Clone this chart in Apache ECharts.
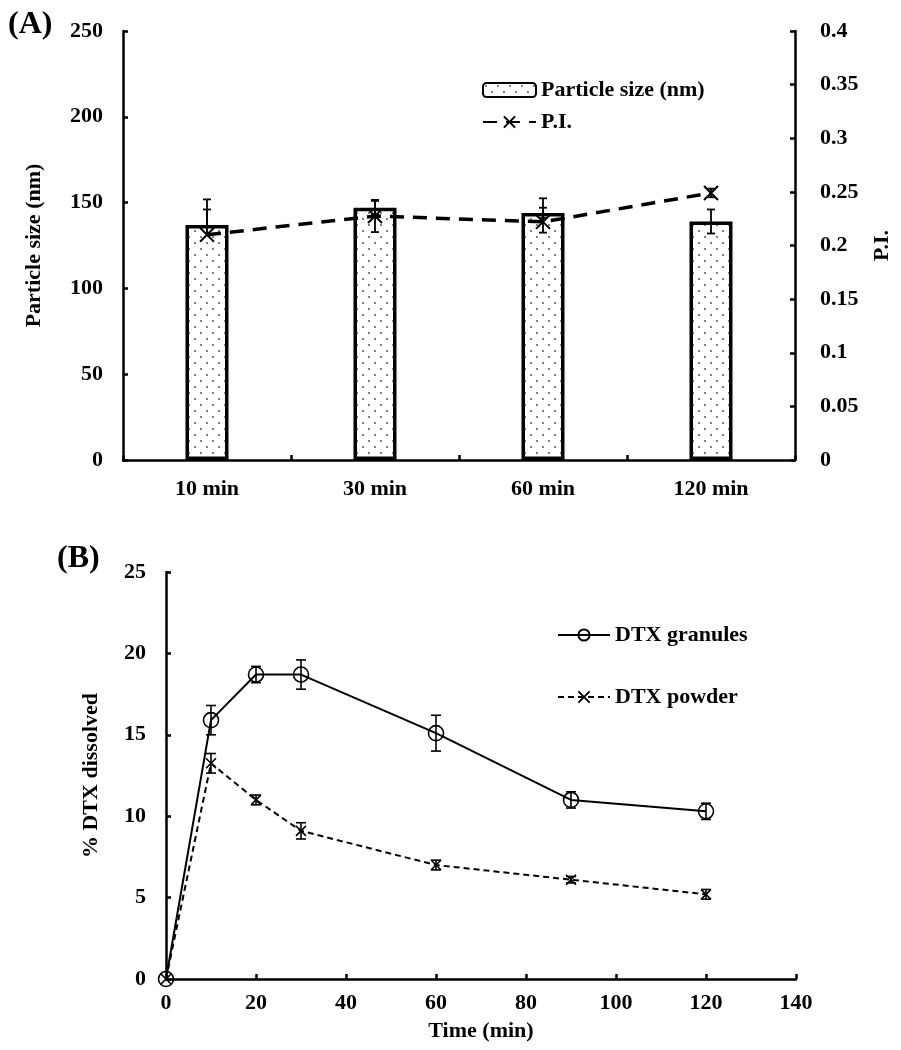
<!DOCTYPE html>
<html>
<head>
<meta charset="utf-8">
<script src="https://cdn.jsdelivr.net/npm/echarts@6/dist/echarts.min.js"></script>
<style>html,body{margin:0;padding:0;background:#fff;}#c{width:901px;height:1050px;}</style>
</head>
<body>
<div id="c"></div>
<script>
// ---- Data: panel A ----
const timeCats = ['10 min', '30 min', '60 min', '120 min'];
const particleSize = [137, 147, 144, 139];
const particleSizePlus = [9, 4, 3, 7];
const particleSizeMinus = [0, 4, 3, 7];
const piValues = [0.21, 0.2275, 0.222, 0.249];
const piPlus = [0.033, 0.015, 0.022, 0.004];
const piMinus = [0, 0.015, 0.01, 0.004];
const leftTicksA = [0, 50, 100, 150, 200, 250];
const rightTicksA = [0, 0.05, 0.1, 0.15, 0.2, 0.25, 0.3, 0.35, 0.4];

// ---- Data: panel B ----
const timeMin = [0, 10, 20, 30, 60, 90, 120];
const granules = [0, 15.9, 18.7, 18.7, 15.1, 11.0, 10.3];
const granulesErr = [0, 0.9, 0.5, 0.9, 1.1, 0.5, 0.5];
const powder = [0, 13.25, 11.0, 9.1, 7.0, 6.1, 5.2];
const powderErr = [0, 0.6, 0.3, 0.5, 0.3, 0.2, 0.3];

const FONT = '"Liberation Serif", "Times New Roman", serif';

// dotted fill pattern
const pc = document.createElement('canvas');
pc.width = 12; pc.height = 12;
const g = pc.getContext('2d');
g.fillStyle = '#fff'; g.fillRect(0, 0, 12, 12);
g.fillStyle = '#444';
g.beginPath(); g.arc(3, 3, 0.9, 0, Math.PI * 2); g.fill();
g.beginPath(); g.arc(9, 9, 0.9, 0, Math.PI * 2); g.fill();
const dotPattern = { image: pc, repeat: 'repeat' };

const crossPath = 'path://M0,0L10,10M10,0L0,10';

function errRender(capHalf, lw) {
  return function (params, api) {
    const x = api.value(0), lo = api.value(1), hi = api.value(2), mid = api.value(3);
    const p1 = api.coord([x, hi]), p2 = api.coord([x, lo]);
    const st = { stroke: '#000', lineWidth: lw, fill: null };
    const ch = [
      { type: 'line', shape: { x1: p1[0], y1: p1[1], x2: p2[0], y2: p2[1] }, style: st }
    ];
    if (hi > mid) ch.push({ type: 'line', shape: { x1: p1[0] - capHalf, y1: p1[1], x2: p1[0] + capHalf, y2: p1[1] }, style: st });
    if (lo < mid) ch.push({ type: 'line', shape: { x1: p2[0] - capHalf, y1: p2[1], x2: p2[0] + capHalf, y2: p2[1] }, style: st });
    return { type: 'group', children: ch };
  };
}

const barErrData = particleSize.map((v, i) => [i, v - particleSizeMinus[i], v + particleSizePlus[i], v]);
const piErrData = piValues.map((v, i) => [i, v - piMinus[i], v + piPlus[i], v]);
const granErrData = timeMin.map((t, i) => [t, granules[i] - granulesErr[i], granules[i] + granulesErr[i], granules[i]]).filter((d, i) => granulesErr[i] > 0);
const powErrData = timeMin.map((t, i) => [t, powder[i] - powderErr[i], powder[i] + powderErr[i], powder[i]]).filter((d, i) => powderErr[i] > 0);

const axisTxt = { fontFamily: FONT, fontWeight: 'bold', fontSize: 22, color: '#000' };
const nameTxt = { fontFamily: FONT, fontWeight: 'bold', fontSize: 22, color: '#000' };
const axLine = { show: true, lineStyle: { color: '#000', width: 2.5 } };
const axTick = { show: true, inside: true, length: 5, lineStyle: { color: '#000', width: 2.5 } };

const chart = echarts.init(document.getElementById('c'), null, { renderer: 'canvas' });
chart.setOption({
  animation: false,
  backgroundColor: '#fff',
  title: [
    { text: '(A)', left: 3, top: 4, textStyle: { fontFamily: FONT, fontWeight: 'bold', fontSize: 32, color: '#000' } },
    { text: '(B)', left: 52, top: 538, textStyle: { fontFamily: FONT, fontWeight: 'bold', fontSize: 32, color: '#000' } }
  ],
  legend: [
    {
      data: ['Particle size (nm)', 'P.I.'],
      orient: 'vertical', left: 477, top: 74, itemGap: 10, itemWidth: 53, itemHeight: 14,
      textStyle: { fontFamily: FONT, fontWeight: 'bold', fontSize: 22, color: '#000' }
    },
    {
      data: ['DTX granules', 'DTX powder'],
      orient: 'vertical', left: 552, top: 619, itemGap: 40, itemWidth: 52, itemHeight: 14,
      textStyle: { fontFamily: FONT, fontWeight: 'bold', fontSize: 22, color: '#000' }
    }
  ],
  grid: [
    { left: 123, right: 98, top: 31, bottom: 590 },
    { left: 166, right: 105, top: 572, bottom: 71 }
  ],
  xAxis: [
    {
      type: 'category', gridIndex: 0, data: timeCats, boundaryGap: true,
      axisLine: axLine, axisTick: Object.assign({}, axTick, { alignWithLabel: false }),
      axisLabel: Object.assign({ margin: 18 }, axisTxt), splitLine: { show: false }
    },
    {
      type: 'value', gridIndex: 1, min: 0, max: 140, interval: 20,
      axisLine: axLine, axisTick: axTick,
      axisLabel: Object.assign({ margin: 13 }, axisTxt), splitLine: { show: false },
      name: 'Time (min)', nameLocation: 'middle', nameGap: 41, nameTextStyle: nameTxt
    }
  ],
  yAxis: [
    {
      type: 'value', gridIndex: 0, min: leftTicksA[0], max: leftTicksA[leftTicksA.length - 1], interval: 50,
      axisLine: axLine, axisTick: axTick, axisLabel: Object.assign({ margin: 20 }, axisTxt), splitLine: { show: false },
      name: 'Particle size (nm)', nameLocation: 'middle', nameGap: 78, nameRotate: 90, nameTextStyle: nameTxt
    },
    {
      type: 'value', gridIndex: 0, position: 'right', min: rightTicksA[0], max: rightTicksA[rightTicksA.length - 1], interval: 0.05,
      axisLine: axLine, axisTick: axTick, axisLabel: Object.assign({ margin: 25 }, axisTxt), splitLine: { show: false },
      name: 'P.I.', nameLocation: 'middle', nameGap: 76, nameRotate: 90, nameTextStyle: nameTxt
    },
    {
      type: 'value', gridIndex: 1, min: 0, max: 25, interval: 5,
      axisLine: axLine, axisTick: axTick, axisLabel: Object.assign({ margin: 20 }, axisTxt), splitLine: { show: false },
      name: '% DTX dissolved', nameLocation: 'middle', nameGap: 64, nameRotate: 90, nameTextStyle: nameTxt
    }
  ],
  series: [
    {
      name: 'Particle size (nm)', type: 'bar', xAxisIndex: 0, yAxisIndex: 0, data: particleSize, barWidth: 43,
      itemStyle: { color: dotPattern, borderColor: '#000', borderWidth: 3.5 }, z: 2
    },
    {
      name: 'barErr', type: 'custom', xAxisIndex: 0, yAxisIndex: 0, data: barErrData,
      renderItem: errRender(4, 1.8), z: 3, silent: true
    },
    {
      name: 'P.I.', type: 'line', xAxisIndex: 0, yAxisIndex: 1, data: piValues,
      symbol: crossPath, symbolSize: 14,
      lineStyle: { color: '#000', width: 3.5, type: [14, 9] },
      itemStyle: { color: '#000', borderColor: '#000', borderWidth: 2 }, z: 4
    },
    {
      name: 'piErr', type: 'custom', xAxisIndex: 0, yAxisIndex: 1, data: piErrData,
      renderItem: errRender(4, 1.8), z: 5, silent: true
    },
    {
      name: 'DTX granules', type: 'line', xAxisIndex: 1, yAxisIndex: 2,
      data: timeMin.map((t, i) => [t, granules[i]]),
      symbol: 'circle', symbolSize: 15, showAllSymbol: true,
      lineStyle: { color: '#000', width: 2 },
      itemStyle: { color: 'rgba(255,255,255,0)', borderColor: '#000', borderWidth: 1.6 }, z: 4
    },
    {
      name: 'granErr', type: 'custom', xAxisIndex: 1, yAxisIndex: 2, data: granErrData,
      renderItem: errRender(5, 1.6), z: 5, silent: true
    },
    {
      name: 'DTX powder', type: 'line', xAxisIndex: 1, yAxisIndex: 2,
      data: timeMin.map((t, i) => [t, powder[i]]),
      symbol: crossPath, symbolSize: 10, showAllSymbol: true,
      lineStyle: { color: '#000', width: 2, type: [6, 4] },
      itemStyle: { color: '#000', borderColor: '#000', borderWidth: 1.6 }, z: 4
    },
    {
      name: 'powErr', type: 'custom', xAxisIndex: 1, yAxisIndex: 2, data: powErrData,
      renderItem: errRender(5, 1.6), z: 5, silent: true
    }
  ]
});
</script>
</body>
</html>
